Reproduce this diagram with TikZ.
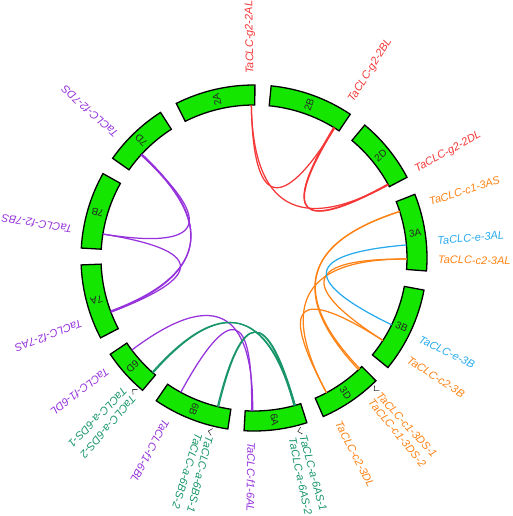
\documentclass[tikz,border=0pt]{standalone}
\usepackage{fontspec}
\setmainfont{Liberation Sans}
\usetikzlibrary{calc}
\definecolor{cred}{RGB}{245,55,55}
\definecolor{corange}{RGB}{255,130,20}
\definecolor{cblue}{RGB}{40,170,235}
\definecolor{cpurple}{RGB}{150,50,220}
\definecolor{cgreen}{RGB}{25,150,105}
\definecolor{chrfill}{RGB}{20,230,0}
\newcommand\glink[3]{\draw[link,#1] (#2) .. controls ($(#2)!0.6667!(O)$) and ($(#3)!0.6667!(O)$) .. (#3);}
\begin{document}
\begin{tikzpicture}[x=1pt,y=1pt,
  chrbox/.style={draw=black, line width=1.3pt, fill=chrfill},
  chrlabel/.style={font=\fontsize{10}{10}\selectfont, text=black!85, inner sep=0},
  genelabel/.style={font=\fontsize{11}{11}\selectfont\itshape, inner sep=0, anchor=west},
  link/.style={line width=1.25pt},
  fork/.style={draw=black!80, line width=0.6pt}]
\useasboundingbox (-254,-258) rectangle (258,258);
\coordinate (O) at (0,0);
% chromosomes
\foreach \a/\b/\n in {116.7/89.7/2A, 84.3/56.2/2B, 50.2/27.8/2D, 21.6/-4.3/3A,
  -10.7/-39.3/3B, -45.2/-66.4/3D, -72.2/-93.3/6A, -98.7/-124.4/6B,
  -130.1/-146.2/6D, 207.5/182.3/7A, 176.7/150.8/7B, 144.8/122.7/7D} {
  \pgfmathsetmacro\m{(\a+\b)/2}
  \draw[chrbox] (\a:153) arc[start angle=\a, end angle=\b, radius=153]
     -- (\b:173) arc[start angle=\b, end angle=\a, radius=173] -- cycle;
  \node[chrlabel, rotate=\m] (c\n) at (\m:163) {\n};
}
% gene positions
\foreach \n/\a in {r2A/91, r2B/58.2, r2Bb/58.6, r2D/28.6, r2Db/28.9,
  o3AS/17.7, o3AL/-0.4, o3B/-32.6, o3DSa/-46.3, o3DSb/-46.9, o3DL/-61.7,
  b3A/4.9, b3B/-25.9,
  p7D/137.6, p7Db/137.2, p7B/171, p7A/200.7, p7Ab/200.3,
  p6D/-143, p6B/-118.6, p6A/-90.5, p6Ab/-90.9,
  a6Da/-131.3, a6Db/-131.7, a6Ba/-103.4, a6Bb/-103.8, a6Aa/-74.4, a6Ab/-74.8} {
  \coordinate (\n) at (\a:153);
}
% links
\glink{cred}{r2A}{r2B}
\glink{cred}{r2A}{r2D}
\glink{cred}{r2B}{r2D}
\glink{cred}{r2Bb}{r2Db}
\glink{corange}{o3AS}{o3DSa}
\glink{corange}{o3AS}{o3DSb}
\glink{corange}{o3AL}{o3B}
\glink{corange}{o3AL}{o3DL}
\glink{corange}{o3B}{o3DL}
\glink{cblue}{b3A}{b3B}
\glink{cpurple}{p7D}{p7B}
\glink{cpurple}{p7D}{p7A}
\glink{cpurple}{p7Db}{p7Ab}
\glink{cpurple}{p7B}{p7A}
\glink{cpurple}{p6D}{p6A}
\glink{cpurple}{p6B}{p6Ab}
\glink{cgreen}{a6Da}{a6Aa}
\glink{cgreen}{a6Db}{a6Ab}
\glink{cgreen}{a6Ba}{a6Aa}
\glink{cgreen}{a6Bb}{a6Ab}
% gene labels
\foreach \a/\c/\t [count=\i] in {91/cred/TaCLC-g2-2AL, 58.2/cred/TaCLC-g2-2BL,
  28.6/cred/TaCLC-g2-2DL, 17.7/corange/TaCLC-c1-3AS, 5.3/cblue/TaCLC-e-3AL,
  -0.6/corange/TaCLC-c2-3AL, -26/cblue/TaCLC-e-3B, -33.2/corange/TaCLC-c2-3B,
  -47.5/corange/TaCLC-c1-3DS-1, -50.7/corange/TaCLC-c1-3DS-2,
  -62.8/corange/TaCLC-c2-3DL, -74.6/cgreen/TaCLC-a-6AS-1, -78.0/cgreen/TaCLC-a-6AS-2,
  -90.8/cpurple/TaCLC-f1-6AL, -104.0/cgreen/TaCLC-a-6BS-1, -107.4/cgreen/TaCLC-a-6BS-2,
  -118.3/cpurple/TaCLC-f1-6BL, -134.4/cgreen/TaCLC-a-6DS-1, -130.8/cgreen/TaCLC-a-6DS-2,
  -142.5/cpurple/TaCLC-f1-6DL, -159.2/cpurple/TaCLC-f2-7AS, 171/cpurple/TaCLC-f2-7BS,
  138.3/cpurple/TaCLC-f2-7DS} {
  \node[genelabel, text=\c, rotate=\a] (L\i) at (\a:184) {\t};
}
% forks
\foreach \n/\g in {f3D/-46.6, f6A/-74.6, f6B/-103.6, f6D/-131.5} {
  \coordinate (\n v) at ({\g-1.2}:179);
  \coordinate (\n a) at (\g:175.5);
  \coordinate (\n b) at (\g:182.5);
  \draw[fork] (\n a) -- (\n v) -- (\n b);
}
\end{tikzpicture}
\end{document}
